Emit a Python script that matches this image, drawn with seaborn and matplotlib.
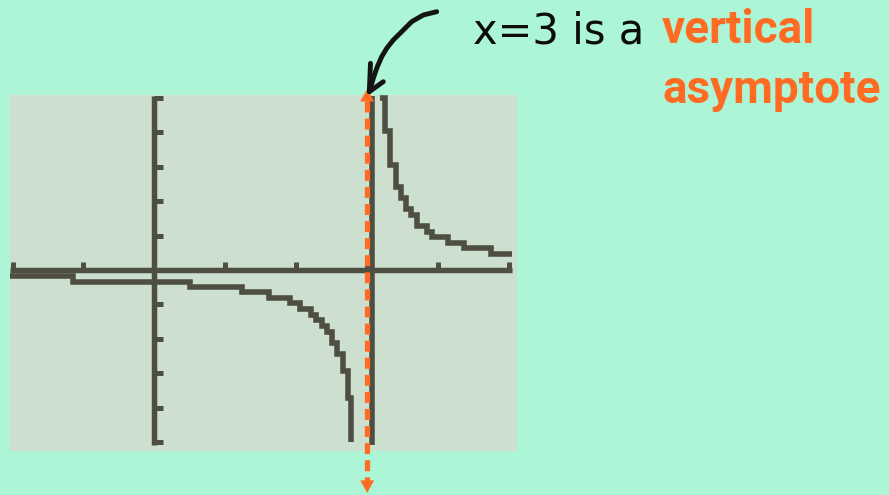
import numpy as np
import pandas as pd
import matplotlib
matplotlib.use("Agg")
import matplotlib.pyplot as plt
from matplotlib.lines import Line2D
import seaborn as sns

# ---- data (staircase pixel runs) ----
left_x = [-2.036, -1.148, 0.502, 1.235, 1.616, 1.912, 2.053, 2.208, 2.279, 2.363,
          2.433, 2.504, 2.574, 2.659, 2.729, 2.765]
left_y = [-0.163, -0.334, -0.493, -0.653, -0.813, -0.972, -1.132, -1.292, -1.451, -1.626,
          -1.800, -2.119, -2.438, -2.932, -3.716, -4.993]
conn_x = [3.061, 3.061]
conn_y = [5.050, -5.080]
right_x = [3.181, 3.251, 3.322, 3.406, 3.477, 3.547, 3.618, 3.702, 3.843, 3.914,
           4.140, 4.365, 4.746, 5.042]
right_y = [4.993, 4.035, 3.048, 2.409, 2.090, 1.771, 1.597, 1.277, 1.117, 0.958,
           0.798, 0.639, 0.479, 0.479]
x_ticks = [-2, -1, 1, 2, 3, 4, 5]
y_ticks = [-5, -4, -3, -2, -1, 1, 2, 3, 4, 5]
asymptote_x = 3
title_plain = "x=3 is a"
title_bold1 = "vertical"
title_bold2 = "asymptote"

BG = "#adf5d7"
PANEL = "#cde0d0"
INK = "#4f4e42"
ORANGE = "#ff6b22"

W, H = 889, 495
sns.set_style("white", rc={"axes.facecolor": PANEL, "figure.facecolor": BG})
plt.rcParams["lines.scale_dashes"] = False

fig = plt.figure(figsize=(W / 100, H / 100), dpi=100)
ax = fig.add_axes([10 / W, 1 - 451 / H, 507 / W, 356 / H])

df = pd.concat([
    pd.DataFrame({"x": left_x, "y": left_y, "seg": "L"}),
    pd.DataFrame({"x": conn_x, "y": conn_y, "seg": "C"}),
    pd.DataFrame({"x": right_x, "y": right_y, "seg": "R"}),
], ignore_index=True)

sns.lineplot(data=df, x="x", y="y", units="seg", estimator=None, sort=False,
             color=INK, lw=4.0, drawstyle="steps-post",
             solid_capstyle="butt", solid_joinstyle="miter", ax=ax, legend=False)

ax.set_xlim(-2.036, 5.112)
ax.set_ylim(-5.254, 5.080)
ax.set_xlabel("")
ax.set_ylabel("")

# calculator axes through the origin
for s in ["top", "right"]:
    ax.spines[s].set_visible(False)
ax.spines["bottom"].set_position(("data", 0))
ax.spines["left"].set_position(("data", 0))
ax.spines["bottom"].set_bounds(-2.036, 5.042)
ax.spines["left"].set_bounds(-5.080, 5.050)
for s in ["bottom", "left"]:
    ax.spines[s].set_color(INK)
    ax.spines[s].set_linewidth(3.95)
    ax.spines[s].set_capstyle("butt")
ax.set_xticks(x_ticks)
ax.set_yticks(y_ticks)
ax.tick_params(axis="x", direction="in", length=5.8, width=3.6, color=INK,
               labelbottom=False, bottom=True)
ax.tick_params(axis="y", direction="in", length=6.2, width=3.6, color=INK,
               labelleft=False, left=True)

# orange dashed asymptote arrow
y_top_base, y_bot_base = 4.906, -6.18
y_top_tip, y_bot_tip = 5.254, -6.47
ax.plot([asymptote_x, asymptote_x], [y_top_base, y_bot_base], color=ORANGE, lw=3.8,
        dashes=(7.9, 4.4), clip_on=False, zorder=5)
for base, tip in [(y_top_base, y_top_tip), (y_bot_base, y_bot_tip)]:
    ax.annotate("", xy=(asymptote_x, tip), xytext=(asymptote_x, base),
                arrowprops=dict(arrowstyle="-|>,head_length=0.45,head_width=0.25",
                                color=ORANGE, lw=0, shrinkA=0, shrinkB=0,
                                mutation_scale=20),
                annotation_clip=False, zorder=6)

# hand drawn black arrow (pixel coords -> figure fraction)
arrow_px = [(436.7, 11.7), (423.3, 15), (411.7, 21.7), (401.7, 31.7), (393.3, 40),
            (386.7, 48.3), (381.7, 56.7), (377.3, 66.7), (373.3, 78.3), (369.5, 91)]
head_l = [(370.5, 63.3), (369.3, 91.7)]
head_r = [(383.3, 81.7), (369.3, 91.7)]
for pts in [arrow_px, head_l, head_r]:
    xs = [p[0] / W for p in pts]
    ys = [1 - p[1] / H for p in pts]
    fig.add_artist(Line2D(xs, ys, color="#141414", lw=3.5, solid_capstyle="round",
                          solid_joinstyle="round", transform=fig.transFigure, zorder=10))

fig.text(472.7 / W, 1 - 43.3 / H, title_plain, fontsize=30, family="DejaVu Sans",
         color="#0c0c0c", va="baseline", ha="left")
fig.text(661.7 / W, 1 - 43.3 / H, title_bold1, fontsize=33, family="Roboto",
         weight="bold", color=ORANGE, va="baseline", ha="left")
fig.text(663 / W, 1 - 103.3 / H, title_bold2, fontsize=33, family="Roboto",
         weight="bold", color=ORANGE, va="baseline", ha="left")

fig.savefig("out.png", dpi=100, facecolor=BG)
